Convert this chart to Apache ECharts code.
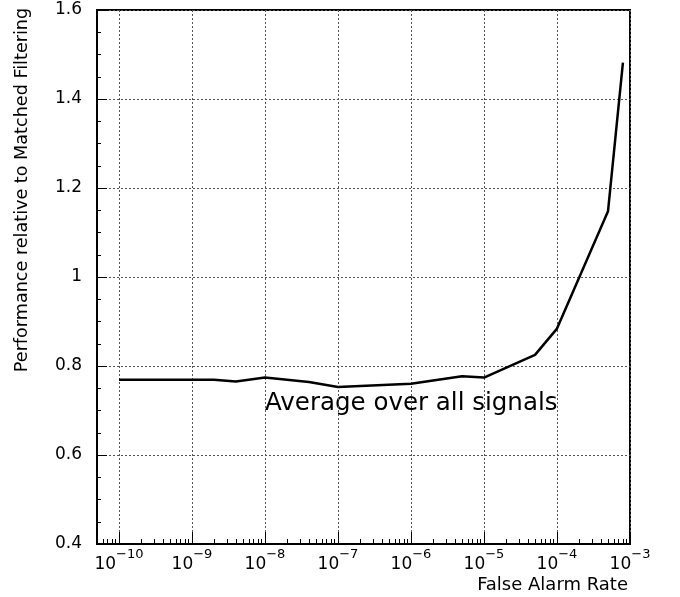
<!DOCTYPE html>
<html>
<head>
<meta charset="utf-8">
<script src="https://cdn.jsdelivr.net/npm/echarts@6/dist/echarts.min.js"></script>
<style>
html,body{margin:0;padding:0;background:#fff;}
#chart{width:680px;height:597px;}
</style>
</head>
<body>
<div id="chart"></div>
<script>
// Data
var falseAlarmRate = [1e-10, 1e-9, 2e-9, 4e-9, 1e-8, 4e-8, 1e-7, 1e-6, 5e-6, 1e-5, 5e-5, 1e-4, 5e-4, 8e-4];
var performance   = [0.769, 0.769, 0.769, 0.765, 0.774, 0.764, 0.753, 0.760, 0.777, 0.774, 0.825, 0.884, 1.148, 1.482];

// Axis ticks
var xMajorExponents = [-10, -9, -8, -7, -6, -5, -4, -3];
var xMinorMultipliers = [2, 3, 4, 5, 6, 7, 8, 9];
var xMin = 5e-11, xMax = 1e-3;
var yMin = 0.4, yMax = 1.6, yStep = 0.2;

var xMinorTicks = [6e-11, 7e-11, 8e-11, 9e-11];
xMajorExponents.slice(0, -1).forEach(function (e) {
  xMinorMultipliers.forEach(function (m) { xMinorTicks.push(m * Math.pow(10, e)); });
});
var xMajorTicks = xMajorExponents.map(function (e) { return Math.pow(10, e); });

var FONT = 'DejaVu Sans';
var chart = echarts.init(document.getElementById('chart'), null, {renderer: 'canvas'});

var gridLine = {show: true, lineStyle: {color: '#555', width: 1, type: [2, 2]}};

chart.setOption({
  animation: false,
  backgroundColor: '#fff',
  grid: {left: 97, right: 50, top: 10, bottom: 53, show: true, borderColor: '#000', borderWidth: 2, backgroundColor: 'transparent'},
  xAxis: [{
    type: 'log', logBase: 10, min: xMin, max: xMax, position: 'bottom',
    axisLine: {show: true, onZero: false, lineStyle: {color: '#000', width: 2}},
    axisTick: {show: true, inside: true, length: 12, customValues: xMajorTicks, lineStyle: {color: '#000', width: 1}},
    minorTick: {show: false},
    splitLine: gridLine,
    axisLabel: {
      show: true, margin: 4, color: '#000', customValues: xMajorTicks,
      formatter: function (v) {
        var e = Math.round(Math.log10(v));
        if (Math.abs(Math.log10(v) - e) > 1e-6) return '';
        return '{b|10}{s|' + (e < 0 ? '\u2212' : '') + Math.abs(e) + '}';
      },
      rich: {
        b: {fontSize: 17, fontFamily: FONT, color: '#000', padding: [8, 0, 0, 0], verticalAlign: 'bottom'},
        s: {fontSize: 13, fontFamily: FONT, color: '#000', verticalAlign: 'top'}
      }
    }
  }, {
    type: 'log', logBase: 10, min: xMin, max: xMax, position: 'bottom',
    axisLine: {show: false},
    axisTick: {show: true, inside: true, length: 5, customValues: xMinorTicks, lineStyle: {color: '#000', width: 1}},
    axisLabel: {show: false},
    splitLine: {show: false}
  }],
  yAxis: {
    type: 'value', min: yMin, max: yMax, interval: yStep,
    axisLine: {show: true, onZero: false, lineStyle: {color: '#000', width: 2}},
    axisTick: {show: true, inside: true, length: 10, lineStyle: {color: '#000', width: 1}},
    minorTick: {show: true, splitNumber: 4, length: 4, lineStyle: {color: '#000', width: 1}},
    splitLine: gridLine,
    axisLabel: {
      margin: 15, color: '#000', fontSize: 17, fontFamily: FONT,
      formatter: function (v) { return String(Math.round(v * 10) / 10); }
    }
  },
  series: [{
    type: 'line', xAxisIndex: 0,
    data: falseAlarmRate.map(function (x, i) { return [x, performance[i]]; }),
    showSymbol: false, symbol: 'none',
    lineStyle: {color: '#000', width: 2.5},
    z: 5
  }],
  graphic: [
    {type: 'text', left: 265, top: 391, style: {text: 'Average over all signals', font: '24.5px "DejaVu Sans"', fill: '#000'}},
    {type: 'text', x: 22, y: 190, rotation: Math.PI / 2, style: {text: 'Performance relative to Matched Filtering', font: '17.6px "DejaVu Sans"', fill: '#000', align: 'center', verticalAlign: 'middle'}},
    {type: 'text', x: 628, y: 585, style: {text: 'False Alarm Rate', font: '18px "DejaVu Sans"', fill: '#000', align: 'right', verticalAlign: 'middle'}}
  ]
});
</script>
</body>
</html>
